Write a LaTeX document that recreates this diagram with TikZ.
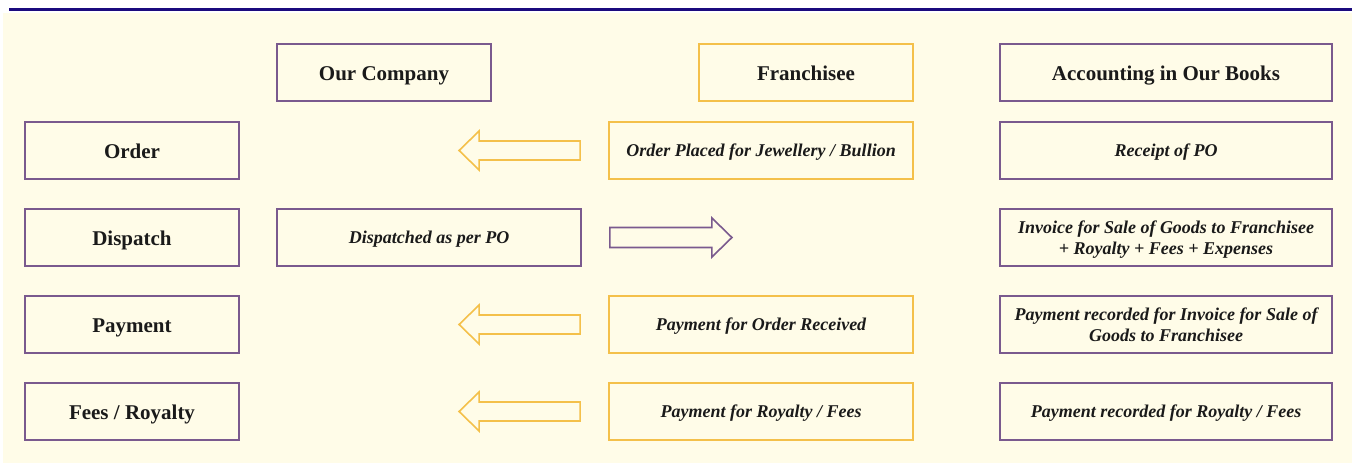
\documentclass[tikz,border=0pt]{standalone}
\usepackage{fontspec}
\setmainfont{Liberation Serif}
\definecolor{cream}{HTML}{FFFCE8}
\definecolor{boxpurple}{HTML}{7A5A8E}
\definecolor{boxyellow}{HTML}{F4C04A}
\definecolor{topblue}{HTML}{1B0A7E}
\definecolor{ink}{HTML}{1A1A1A}
\begin{document}
\begin{tikzpicture}[x=1pt,y=-1pt,
  basebox/.style={draw, line width=1.8pt, fill=cream, rectangle, minimum height=57pt, inner sep=2pt, align=center, text=ink},
  pbox/.style={basebox, draw=boxpurple},
  ybox/.style={basebox, draw=boxyellow},
  head/.style={font=\fontsize{21}{24}\selectfont\bfseries, text height=16.4pt, text depth=0pt},
  desc/.style={font=\fontsize{18}{21}\selectfont\bfseries\itshape, text height=12.4pt, text depth=0pt},
  desctwo/.style={desc, text height=33.4pt},
  w1/.style={minimum width=214pt},
  w2/.style={minimum width=304pt},
  w3/.style={minimum width=332pt},
  yarrow/.style={draw=boxyellow, line width=1.6pt, fill=cream, line join=miter},
  parrow/.style={draw=boxpurple, line width=1.6pt, fill=cream, line join=miter}
]
\useasboundingbox (0,0) rectangle (1352,463);
\fill[white] (0,0) rectangle (1352,463);
\fill[cream] (3,13) rectangle (1352,463);
\fill[topblue] (9,7.5) rectangle (1352,10.5);

% headers
\node[pbox,w1,head] (co) at (384,72.5) {Our Company};
\node[ybox,w1,head] (fr) at (806,72.5) {Franchisee};
\node[pbox,w3,head] (ac) at (1166,72.5) {Accounting in Our Books};

% left column
\node[pbox,w1,head] (order) at (132,150.5) {Order};
\node[pbox,w1,head] (disp) at (132,237.5) {Dispatch};
\node[pbox,w1,head] (pay) at (132,324.5) {Payment};
\node[pbox,w1,head] (fees) at (132,411.5) {Fees / Royalty};

% company column
\node[pbox,w2,desc] (dpo) at (429,237.5) {Dispatched as per PO};

% franchisee column
\node[ybox,w2,desc] (fo) at (761,150.5) {Order Placed for Jewellery / Bullion};
\node[ybox,w2,desc] (fp) at (761,324.5) {Payment for Order Received};
\node[ybox,w2,desc] (ff) at (761,411.5) {Payment for Royalty / Fees};

% accounting column
\node[pbox,w3,desc] (a1) at (1166,150.5) {Receipt of PO};
\node[pbox,w3,desctwo] (a2) at (1166,237.5) {Invoice for Sale of Goods to Franchisee\\+ Royalty + Fees + Expenses};
\node[pbox,w3,desctwo] (a3) at (1166,324.5) {Payment recorded for Invoice for Sale of\\Goods to Franchisee};
\node[pbox,w3,desc] (a4) at (1166,411.5) {Payment recorded for Royalty / Fees};

% block arrows (left-pointing, yellow)
\foreach \n in {fo,fp,ff}{
  \draw[yarrow] ([shift={(-28,9.5)}]\n.west) -- ++(-101,0) -- ++(0,10) -- ++(-20,-19.5) -- ++(20,-19.5) -- ++(0,10) -- ++(101,0) -- cycle;
}
% block arrow (right-pointing, purple)
\draw[parrow] ([shift={(28,10)}]dpo.east) -- ++(102,0) -- ++(0,9.5) -- ++(20,-19.5) -- ++(-20,-19.5) -- ++(0,9.5) -- ++(-102,0) -- cycle;
\end{tikzpicture}
\end{document}
